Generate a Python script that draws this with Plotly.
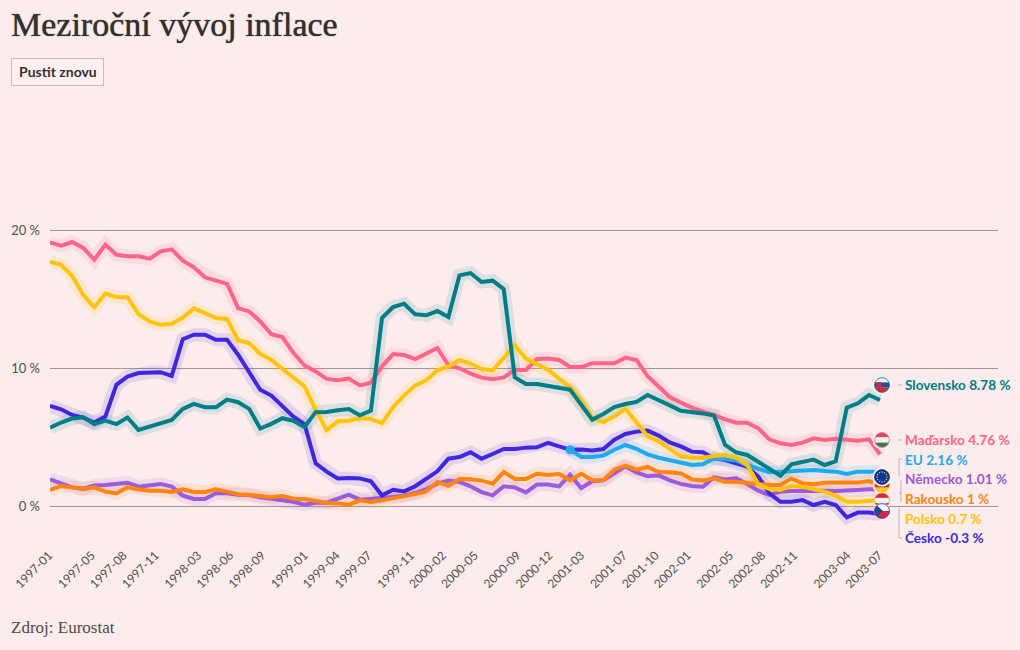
import base64, math
import plotly.graph_objects as go

BG = "#fcecec"
tick_labels = ["1997-01","1997-05","1997-08","1997-11","1998-03","1998-06","1998-09","1999-01","1999-04","1999-07","1999-11","2000-02","2000-05","2000-09","2000-12","2001-03","2001-07","2001-10","2002-01","2002-05","2002-08","2002-11","2003-04","2003-07"]

slovensko = [5.68,6.05,6.34,6.43,5.93,6.19,5.93,6.41,5.51,5.76,6.05,6.24,7.04,7.4,7.16,7.16,7.71,7.52,7.04,5.61,5.95,6.36,6.17,5.71,6.8,6.82,6.94,
 7.03,6.57,6.91,13.62,14.42,14.66,13.89,13.82,14.13,13.7,16.71,16.88,16.23,16.33,15.72,9.32,8.84,8.84,8.72,8.57,8.43,7.34,6.26,6.67,7.17,7.39,7.54,8.04,7.7,7.29,6.9,
 6.84,6.71,6.55,4.42,3.89,3.7,3.21,2.73,2.2,3.02,3.16,3.36,2.97,3.24,7.13,7.44,8.04,7.68]
madarsko = [19.1,18.86,19.13,18.7,17.85,18.94,18.2,18.1,18.09,17.92,18.45,18.6,17.78,17.3,16.57,16.32,16.1,14.34,14.1,13.37,12.45,12.24,11.08,10.18,9.75,9.21,9.12,
 9.23,8.74,8.94,10.12,11.01,10.94,10.65,11.04,11.45,10.19,9.98,9.59,9.3,9.18,9.32,9.86,9.86,10.65,10.68,10.58,10.07,10.07,10.34,10.34,10.34,10.75,10.58,9.4,8.6,7.9,7.5,
 7.13,6.84,6.6,6.28,6.04,6.04,5.63,4.83,4.54,4.42,4.59,4.9,4.78,4.88,4.83,4.73,4.83,3.74]
polsko = [17.7,17.48,16.69,15.3,14.41,15.4,15.14,15.11,13.9,13.37,13.13,13.2,13.66,14.32,13.98,13.62,13.54,11.99,11.8,11.03,10.59,9.94,9.38,8.66,6.96,5.51,6.12,
 6.18,6.38,6.3,6.01,7.17,8.02,8.74,9.11,9.83,10.12,10.56,10.31,9.93,9.83,10.72,11.64,10.68,10.24,9.88,9.23,8.62,7.66,6.38,6.09,6.5,7.05,6.01,5.05,4.69,4.15,3.6,
 3.5,3.5,3.62,3.7,3.5,2.97,1.57,1.23,1.16,1.45,1.4,1.21,1.04,.75,.31,.31,.36,.43]
cesko = [7.26,7.01,6.6,6.41,6.05,6.48,8.78,9.38,9.63,9.7,9.7,9.43,12.09,12.41,12.41,12.04,12.04,10.96,9.63,8.42,8.0,7.2,6.48,5.93,3.1,2.49,2.0,
 2.03,2.0,1.79,.77,1.18,1.06,1.43,1.98,2.51,3.43,3.55,3.89,3.43,3.77,4.13,4.13,4.23,4.25,4.57,4.32,4.08,4.1,4.03,4.13,4.81,5.22,5.39,5.46,5.1,4.61,4.32,
 3.94,3.89,3.45,3.33,3.09,2.85,2.13,.92,.31,.31,.43,.07,.31,.07,-.82,-.48,-.48,-.6]
nemecko = [1.93,1.64,1.35,1.26,1.48,1.52,1.6,1.69,1.4,1.5,1.6,1.4,.75,.51,.51,.92,.92,.82,.8,.63,.51,.39,.31,.1,.24,.24,.56,
 .82,.46,.5,.58,.65,.75,.94,1.23,1.62,1.84,1.74,1.43,1.01,.77,1.43,1.35,.99,1.55,1.55,1.43,2.27,1.3,1.79,1.86,2.39,2.87,2.44,2.15,2.22,1.86,1.6,
 1.45,1.4,2.08,1.93,2.0,1.59,1.11,.8,1.04,1.09,1.11,1.11,1.11,1.09,1.09,1.16,1.21,1.21]
rakousko = [1.16,1.45,1.35,1.21,1.35,1.04,.92,1.35,1.21,1.11,1.11,1.02,1.21,1.02,1.02,1.21,1.04,.85,.82,.73,.63,.73,.53,.51,.36,.24,.19,
 .1,.41,.29,.41,.56,.68,.87,1.06,1.74,1.47,1.96,1.93,1.84,1.62,2.46,1.96,1.96,2.34,2.25,2.32,1.86,2.34,1.86,1.88,2.63,2.92,2.63,2.83,2.46,2.44,2.35,
 1.93,1.84,2.0,1.76,1.76,1.64,1.59,1.52,1.52,2.0,1.64,1.57,1.69,1.71,1.71,1.71,1.81,1.52]
eu = [4.08,3.55,3.55,3.65,4.08,4.42,4.15,3.74,3.5,3.31,3.15,
 2.97,3.02,3.45,3.38,3.29,2.97,2.68,2.44,2.49,2.54,2.56,2.61,2.54,2.49,2.32,2.49,2.49,2.49]

N = len(slovensko)
months = [i * 78 / (N - 1) for i in range(N)]
tick_pos = [(int(t[:4]) - 1997) * 12 + int(t[5:]) - 1 for t in tick_labels]

L, R, T, B = 50, 998, 110, 545
PX_MONTH = 830 / 78
PX_PCT = 13.8
def px(x): return (x - L) / (R - L)
def py(y): return (B - y) / (B - T)

series = [
    ("Německo", nemecko, "#9a5bdc", months),
    ("Česko", cesko, "#3f27de", months),
    ("Maďarsko", madarsko, "#ff6489", months),
    ("EU", eu, "#1fa9f0", months[N - len(eu):]),
    ("Rakousko", rakousko, "#ff8412", months),
    ("Polsko", polsko, "#ffc30b", months),
    ("Slovensko", slovensko, "#007e88", months),
]
fig = go.Figure()
for name, vals, col, xs in series:
    fig.add_trace(go.Scatter(x=xs, y=vals, mode="lines", line=dict(color=col, width=13), opacity=0.12, hoverinfo="skip", showlegend=False))
for name, vals, col, xs in series:
    fig.add_trace(go.Scatter(x=xs, y=vals, mode="lines", name=name, line=dict(color=col, width=4), showlegend=False))
fig.add_trace(go.Scatter(x=[months[N - len(eu)]], y=[eu[0]], mode="markers", marker=dict(color="#1fa9f0", size=9), showlegend=False, hoverinfo="skip"))

def flag(body, ring, halo=9.5):
    svg = ('<svg xmlns="http://www.w3.org/2000/svg" width="26" height="26" viewBox="0 0 26 26">'
           '<defs><clipPath id="c"><circle cx="13" cy="13" r="7.6"/></clipPath></defs>'
           f'<circle cx="13" cy="13" r="{halo}" fill="#fdf1f1"/><g clip-path="url(#c)">{body}</g>'
           f'<circle cx="13" cy="13" r="7.4" fill="none" stroke="{ring}" stroke-width="0.8"/></svg>')
    return "data:image/svg+xml;base64," + base64.b64encode(svg.encode()).decode()
def stripes(a, b, c):
    return (f'<rect x="5" y="5" width="16" height="5.4" fill="{a}"/><rect x="5" y="10.4" width="16" height="5.2" fill="{b}"/>'
            f'<rect x="5" y="15.6" width="16" height="5.4" fill="{c}"/>')
eu_stars = "".join(f'<circle cx="{13+5*math.cos(k*0.5236):.2f}" cy="{13+5*math.sin(k*0.5236):.2f}" r="0.7" fill="#ffd21f"/>' for k in range(12))
flags = [
    (385, stripes("#f2f2f2", "#1f4ba5", "#d8263c") + '<rect x="7.5" y="10" width="5" height="6" rx="1.5" fill="#d8263c"/>', "#007e88", 9.5),
    (440, stripes("#d84a5a", "#f4f0ea", "#3f7a55"), "#ff6489", 9.5),
    (485, stripes("#222222", "#d8263c", "#ffc90e"), "#ffc90e", 9.5),
    (477, '<rect x="5" y="5" width="16" height="16" fill="#10349a"/>' + eu_stars, "#10349a", 9.5),
    (500.5, stripes("#d8263c", "#f4f4f4", "#d8263c"), "#ff8412", 8.5),
    (511, '<rect x="5" y="5" width="16" height="8" fill="#f4f4f4"/><rect x="5" y="13" width="16" height="8" fill="#d4263c"/><path d="M5 5 L14 13 L5 21 Z" fill="#1f4a8c"/>', "#3f27de", 8.2),
]
images = [dict(source=flag(b, r, h), xref="paper", yref="paper", x=px(882), y=py(y), sizex=26 / (R - L), sizey=26 / (B - T),
               sizing="stretch", xanchor="center", yanchor="middle", layer="above") for y, b, r, h in flags]

label_names = ["Slovensko 8.78 %", "Maďarsko 4.76 %", "EU 2.16 %", "Německo 1.01 %", "Rakousko 1 %", "Polsko 0.7 %", "Česko -0.3 %"]
label_colors = ["#007e88", "#ff6489", "#1fa9f0", "#9a5bdc", "#ff8412", "#ffc30b", "#3f27de"]
label_y = [385, 440, 460, 479, 499, 519, 538]
SANS = "Lato"
SERIF = "Liberation Serif"
ann = []
for t, c, y in zip(label_names, label_colors, label_y):
    ann.append(dict(text=f"<b>{t}</b>", x=px(903), y=py(y), xref="paper", yref="paper", xanchor="left", yanchor="middle",
                    showarrow=False, font=dict(family=SANS, size=13.6, color=c)))
ann.append(dict(text="Meziroční vývoj inflace", x=px(9), y=py(25), xref="paper", yref="paper", xanchor="left", yanchor="middle",
                showarrow=False, font=dict(family=SERIF, size=34, color="#333030", shadow="0 0 1px #333030")))
ann.append(dict(text="<b>Pustit znovu</b>", x=px(57.5), y=py(72), xref="paper", yref="paper", xanchor="center", yanchor="middle",
                showarrow=False, font=dict(family=SANS, size=14, color="#333030")))
ann.append(dict(text="Zdroj: Eurostat", x=px(8.5), y=py(627), xref="paper", yref="paper", xanchor="left", yanchor="middle",
                showarrow=False, font=dict(family=SERIF, size=17, color="#4f4848")))

GR = "#b9b4b8"
def seg(x0, y0, x1, y1, col=GR):
    return dict(type="line", xref="paper", yref="paper", x0=px(x0), y0=py(y0), x1=px(x1), y1=py(y1), line=dict(color=col, width=1), layer="above")
shapes = [
    dict(type="rect", xref="paper", yref="paper", x0=px(11.5), y0=py(58.5), x1=px(103.5), y1=py(85.5), line=dict(color="#cdb9bb", width=1), fillcolor="#fdf0f0", layer="below"),
    seg(898, 385, 902, 385), seg(898, 440, 902, 440),
    seg(899, 459, 902, 459), seg(899, 459, 899, 476),
    seg(901, 480, 901, 502), seg(899, 493, 901, 493),
    seg(899, 508, 899, 538), seg(899, 538, 902, 538),
]

fig.update_layout(
    width=1020, height=650, autosize=False,
    margin=dict(l=L, r=1020 - R, t=T, b=650 - B, autoexpand=False),
    paper_bgcolor=BG, plot_bgcolor=BG, showlegend=False,
    font=dict(family=SANS, color="#555050", size=13),
    xaxis=dict(range=[0, (R - L) / PX_MONTH], tickmode="array", tickvals=tick_pos, ticktext=tick_labels, tickangle=-45, ticklabelshift=-1,
               showgrid=False, zeroline=False, showline=False, ticks="", tickfont=dict(size=12, color="#555050")),
    yaxis=dict(range=[(506 - B) / PX_PCT, (506 - T) / PX_PCT], tickmode="array", tickvals=[0, 10, 20], ticktext=["0 %", "10 %", "20 %"], ticklabelstandoff=9,
               showgrid=True, gridcolor="#9c9799", gridwidth=1, zeroline=False, showline=False, ticks="", tickfont=dict(size=13, color="#555050")),
    annotations=ann, shapes=shapes, images=images,
)
fig.write_html("out.html", config=dict(displayModeBar=False),
               post_script="document.body.style.margin='0';document.documentElement.style.background='%s';" % BG)
